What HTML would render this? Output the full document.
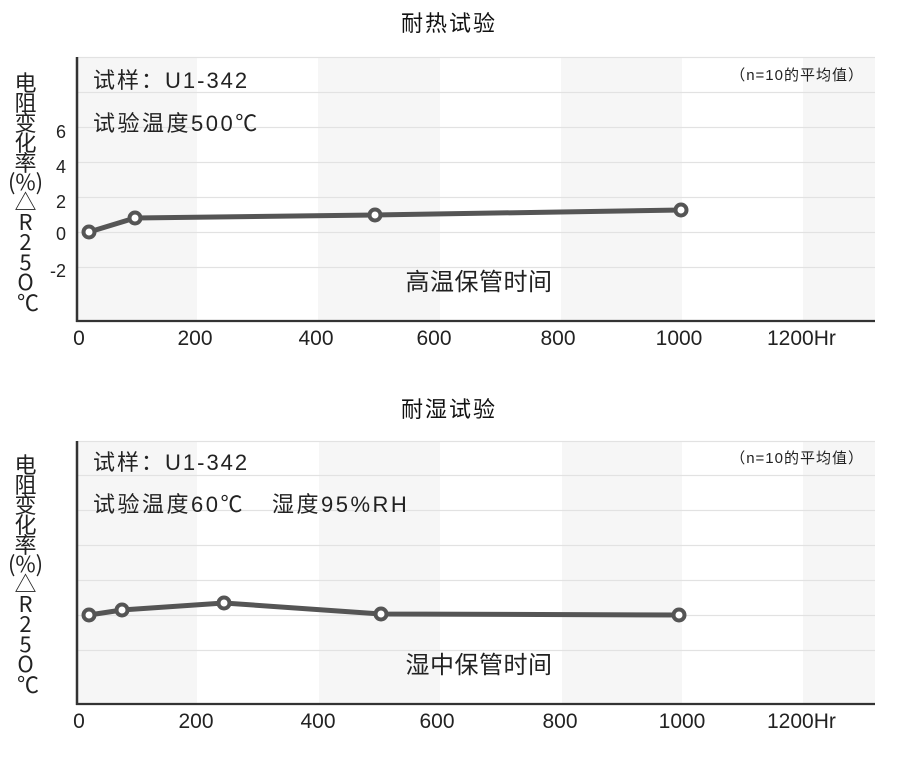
<!DOCTYPE html>
<html>
<head>
<meta charset="utf-8">
<style>
html,body{margin:0;padding:0;background:#fff;}
svg{display:block;}
text{font-family:"Liberation Sans","Noto Sans CJK SC",sans-serif;fill:#222;}
.cjk{font-family:"Noto Sans CJK SC","Liberation Sans",sans-serif;}
</style>
</head>
<body>
<svg width="900" height="776" viewBox="0 0 900 776" xmlns="http://www.w3.org/2000/svg">
  <!-- ============ TOP CHART ============ -->
  <text x="449" y="31" font-size="22" text-anchor="middle" letter-spacing="2" style="fill:#111">耐热试验</text>

  <g fill="#f6f6f6">
    <rect x="77" y="57" width="120" height="264"/>
    <rect x="318" y="57" width="122" height="264"/>
    <rect x="561" y="57" width="121" height="264"/>
    <rect x="803" y="57" width="72" height="264"/>
  </g>
  <g stroke="#e2e2e2" stroke-width="1.2">
    <line x1="77" y1="57.5" x2="875" y2="57.5"/>
    <line x1="77" y1="92.5" x2="875" y2="92.5"/>
    <line x1="77" y1="127.5" x2="875" y2="127.5"/>
    <line x1="77" y1="162.5" x2="875" y2="162.5"/>
    <line x1="77" y1="197.5" x2="875" y2="197.5"/>
    <line x1="77" y1="232.5" x2="875" y2="232.5"/>
    <line x1="77" y1="267.5" x2="875" y2="267.5"/>
  </g>
  <line x1="77" y1="57" x2="77" y2="322" stroke="#333" stroke-width="2.5"/>
  <line x1="76" y1="321" x2="875" y2="321" stroke="#333" stroke-width="2.2"/>

  <text class="cjk" font-size="22" text-anchor="middle">
    <tspan x="28" y="91">电</tspan>
    <tspan x="28" y="111">阻</tspan>
    <tspan x="28" y="131">变</tspan>
    <tspan x="28" y="151">化</tspan>
    <tspan x="28" y="171">率</tspan>
    <tspan x="28" y="190">(%)</tspan>
    <tspan x="28" y="210">△</tspan>
    <tspan x="28" y="230">R</tspan>
    <tspan x="28" y="250">2</tspan>
    <tspan x="28" y="270">5</tspan>
    <tspan x="28" y="290">O</tspan>
    <tspan x="28" y="311">℃</tspan>
  </text>
  <g font-size="18" text-anchor="end">
    <text x="66" y="138">6</text>
    <text x="66" y="173">4</text>
    <text x="66" y="208">2</text>
    <text x="66" y="240">0</text>
    <text x="66" y="277">-2</text>
  </g>
  <g font-size="21" text-anchor="middle">
    <text x="79" y="345">0</text>
    <text x="195" y="345">200</text>
    <text x="316" y="345">400</text>
    <text x="434" y="345">600</text>
    <text x="558" y="345">800</text>
    <text x="679" y="345">1000</text>
    <text x="767" y="345" text-anchor="start">1200Hr</text>
  </g>

  <text x="93" y="88" font-size="22" letter-spacing="2">试样：U1-342</text>
  <text x="93" y="131" font-size="22" letter-spacing="2.5">试验温度500℃</text>
  <text x="864" y="80" font-size="15" text-anchor="end" letter-spacing="1">（n=10的平均值）</text>
  <text x="479" y="290" font-size="24" text-anchor="middle" letter-spacing="0.5">高温保管时间</text>

  <polyline points="89,232 135,218 375,215 681,210" fill="none" stroke="#555" stroke-width="5" stroke-linejoin="round"/>
  <g fill="#fff" stroke="#555" stroke-width="4">
    <circle cx="89" cy="232" r="5.5"/>
    <circle cx="135" cy="218" r="5.5"/>
    <circle cx="375" cy="215" r="5.5"/>
    <circle cx="681" cy="210" r="5.5"/>
  </g>

  <!-- ============ BOTTOM CHART ============ -->
  <text x="449" y="417" font-size="22" text-anchor="middle" letter-spacing="2" style="fill:#111">耐湿试验</text>

  <g fill="#f6f6f6">
    <rect x="77" y="441" width="120" height="263"/>
    <rect x="319" y="441" width="121" height="263"/>
    <rect x="562" y="441" width="120" height="263"/>
    <rect x="803" y="441" width="72" height="263"/>
  </g>
  <g stroke="#e2e2e2" stroke-width="1.2">
    <line x1="77" y1="441.5" x2="875" y2="441.5"/>
    <line x1="77" y1="475.5" x2="875" y2="475.5"/>
    <line x1="77" y1="510.5" x2="875" y2="510.5"/>
    <line x1="77" y1="545.5" x2="875" y2="545.5"/>
    <line x1="77" y1="580.5" x2="875" y2="580.5"/>
    <line x1="77" y1="615.5" x2="875" y2="615.5"/>
    <line x1="77" y1="650.5" x2="875" y2="650.5"/>
  </g>
  <line x1="77" y1="441" x2="77" y2="705" stroke="#333" stroke-width="2.5"/>
  <line x1="76" y1="704" x2="875" y2="704" stroke="#333" stroke-width="2.2"/>

  <text class="cjk" font-size="22" text-anchor="middle">
    <tspan x="28" y="473">电</tspan>
    <tspan x="28" y="493">阻</tspan>
    <tspan x="28" y="513">变</tspan>
    <tspan x="28" y="533">化</tspan>
    <tspan x="28" y="553">率</tspan>
    <tspan x="28" y="572">(%)</tspan>
    <tspan x="28" y="592">△</tspan>
    <tspan x="28" y="612">R</tspan>
    <tspan x="28" y="632">2</tspan>
    <tspan x="28" y="652">5</tspan>
    <tspan x="28" y="672">O</tspan>
    <tspan x="28" y="693">℃</tspan>
  </text>

  <g font-size="21" text-anchor="middle">
    <text x="79" y="728">0</text>
    <text x="196" y="728">200</text>
    <text x="318" y="728">400</text>
    <text x="437" y="728">600</text>
    <text x="560" y="728">800</text>
    <text x="682" y="728">1000</text>
    <text x="767" y="728" text-anchor="start">1200Hr</text>
  </g>

  <text x="93" y="470" font-size="22" letter-spacing="2">试样：U1-342</text>
  <text x="93" y="512" font-size="22" letter-spacing="2.5">试验温度60℃</text>
  <text x="272" y="512" font-size="22" letter-spacing="2.5">湿度95%RH</text>
  <text x="864" y="463" font-size="15" text-anchor="end" letter-spacing="1">（n=10的平均值）</text>
  <text x="479" y="673" font-size="24" text-anchor="middle" letter-spacing="0.5">湿中保管时间</text>

  <polyline points="89,615 122,610 224,603 381,614 679,615" fill="none" stroke="#555" stroke-width="5" stroke-linejoin="round"/>
  <g fill="#fff" stroke="#555" stroke-width="4">
    <circle cx="89" cy="615" r="5.5"/>
    <circle cx="122" cy="610" r="5.5"/>
    <circle cx="224" cy="603" r="5.5"/>
    <circle cx="381" cy="614" r="5.5"/>
    <circle cx="679" cy="615" r="5.5"/>
  </g>
</svg>
</body>
</html>
